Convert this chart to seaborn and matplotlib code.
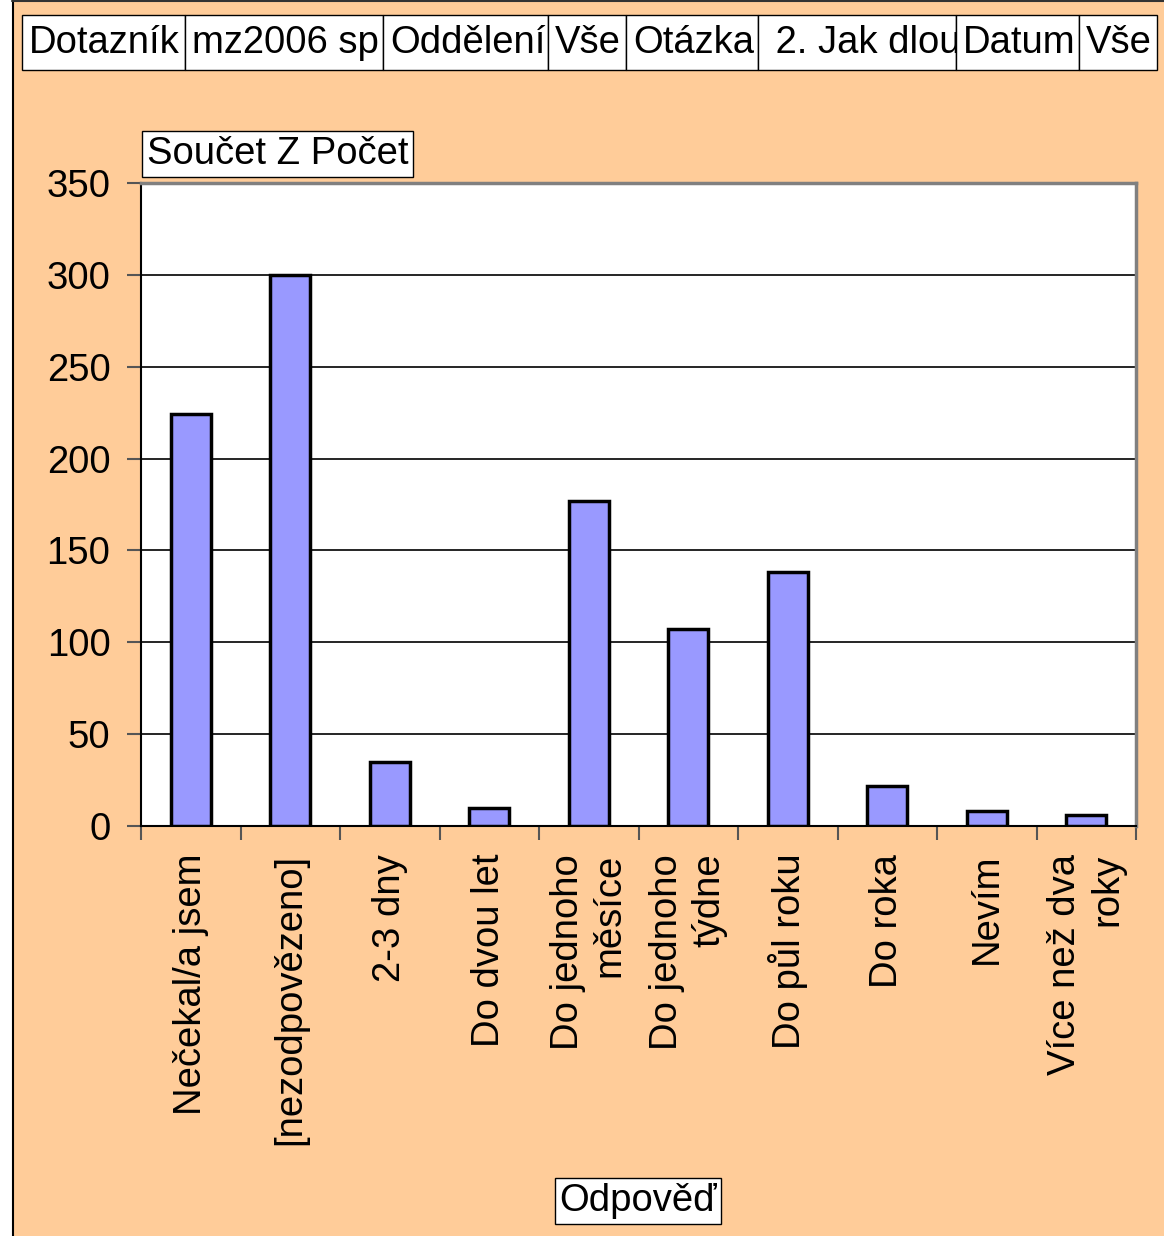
import matplotlib
matplotlib.use("Agg")
import matplotlib.pyplot as plt
import seaborn as sns
from matplotlib.patches import Rectangle
from matplotlib.transforms import Bbox, TransformedBbox

categories = [
    "Nečekal/a jsem",
    "[nezodpovězeno]",
    "2-3 dny",
    "Do dvou let",
    "Do jednoho\nměsíce",
    "Do jednoho\ntýdne",
    "Do půl roku",
    "Do roka",
    "Nevím",
    "Více než dva\nroky",
]
counts = [224, 300, 35, 10, 177, 107, 138, 22, 8, 6]
y_ticks = [0, 50, 100, 150, 200, 250, 300, 350]

# header cells are cut off in the source, keep only the visible part
header_cells = [
    (22, 185, "Dotazník"),
    (185, 383, "mz2006 sp"),
    (383, 548, "Oddělení"),
    (548, 626, "Vše"),
    (626, 758, "Otázka"),
    (758, 956, " 2. Jak dlou"),
    (956, 1079, "Datum"),
    (1079, 1157, "Vše"),
]

W, H = 1164, 1236
ORANGE = "#FFCC99"
BAR = "#9999FF"
FS = 27.5

sns.set_theme(style="white")
plt.rcParams["font.family"] = ["Liberation Sans", "DejaVu Sans"]
plt.rcParams["text.color"] = "black"
plt.rcParams["xtick.color"] = "black"
plt.rcParams["ytick.color"] = "black"

fig = plt.figure(figsize=(W / 100, H / 100), dpi=100, facecolor=ORANGE)

# decoration layer in pixel coordinates
deco = fig.add_axes([0, 0, 1, 1], zorder=0)
deco.set_xlim(0, W)
deco.set_ylim(H, 0)
deco.axis("off")
deco.add_patch(Rectangle((0, 0), 12, H, facecolor="white", edgecolor="none"))
deco.plot([12.5, 12.5], [0, H], color="black", lw=1.5)
deco.plot([12, W], [0.7, 0.7], color="#333333", lw=1.5)

for x0, x1, label in header_cells:
    deco.add_patch(Rectangle((x0, 15), x1 - x0, 55, facecolor="white",
                             edgecolor="black", lw=1))
    t = deco.text(x0 + 7, 43, label, fontsize=FS, va="center", ha="left",
                  color="black")
    clip = TransformedBbox(
        Bbox.from_extents(x0 / W, 1 - 70 / H, x1 / W, 1 - 15 / H),
        fig.transFigure)
    t.set_clip_box(clip)
    t.set_clip_on(True)

ax = fig.add_axes([141 / W, 1 - 826 / H, (1136 - 141) / W, (826 - 183) / H],
                  zorder=1)
ax.set_facecolor("white")

sns.barplot(x=categories, y=counts, color=BAR, width=0.4,
            edgecolor="black", linewidth=2.5, saturation=1, ax=ax, zorder=3)

ax.set_xlim(-0.5, len(categories) - 0.5)
ax.set_ylim(0, 350)
ax.set_yticks(y_ticks)
ax.set_yticklabels([str(v) for v in y_ticks], fontsize=FS)
ax.yaxis.grid(True, color="black", lw=1.2)
ax.set_axisbelow(True)

ax.set_xticks(range(len(categories)))
ax.set_xticklabels(categories, rotation=90, fontsize=FS, va="top",
                   ha="center", multialignment="right")
ax.set_xticks([i - 0.5 for i in range(len(categories) + 1)], minor=True)
ax.tick_params(axis="x", which="major", length=0, pad=20)
ax.tick_params(axis="x", which="minor", length=10, width=1.5,
               color="#555555", direction="out", bottom=True)
ax.tick_params(axis="y", which="major", length=10, width=1.5,
               color="#555555", direction="out", left=True, pad=12)
ax.set_xlabel("")
ax.set_ylabel("")

for side in ["top", "right"]:
    ax.spines[side].set_color("#808080")
    ax.spines[side].set_linewidth(2.5)
for side in ["left", "bottom"]:
    ax.spines[side].set_color("black")
    ax.spines[side].set_linewidth(1.5)

fig.text(147 / W, 1 - 154 / H, "Součet Z Počet", fontsize=FS,
         ha="left", va="center",
         bbox=dict(facecolor="white", edgecolor="black", lw=1,
                   boxstyle="square,pad=0.12"))
fig.text(638 / W, 1 - 1201 / H, "Odpověď", fontsize=FS,
         ha="center", va="center",
         bbox=dict(facecolor="white", edgecolor="black", lw=1,
                   boxstyle="square,pad=0.12"))

fig.savefig("out.png", dpi=100, facecolor=ORANGE)
